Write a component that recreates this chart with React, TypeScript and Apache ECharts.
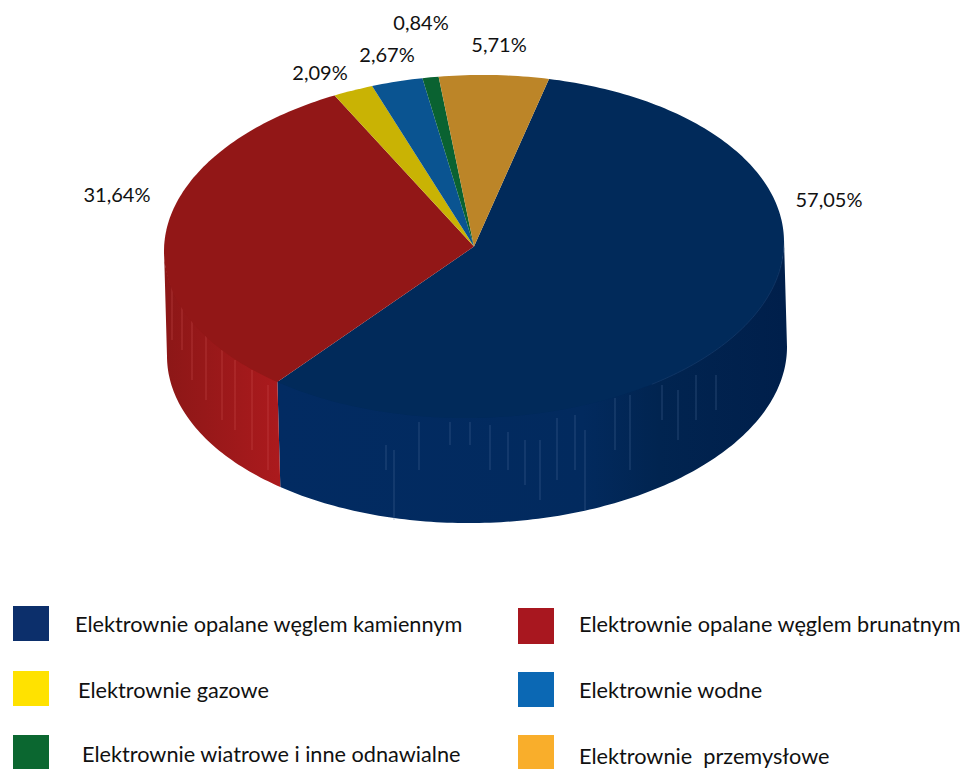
import React, { useEffect, useRef } from "react";
import * as echarts from "echarts";

const categories = [
  "Elektrownie opalane węglem kamiennym",
  "Elektrownie opalane węglem brunatnym",
  "Elektrownie gazowe",
  "Elektrownie wodne",
  "Elektrownie wiatrowe i inne odnawialne",
  "Elektrownie  przemysłowe",
];
const values = [57.05, 31.64, 2.09, 2.67, 0.84, 5.71];
const valueLabels = ["57,05%", "31,64%", "2,09%", "2,67%", "0,84%", "5,71%"];
const labelPositions = [[829, 199], [117, 194], [320, 72], [387, 54], [421, 22], [499, 44]];
const topColors = ["#012a5a", "#921717", "#c9b304", "#0a5491", "#0a6231", "#bc8528"];
const legendColors = ["#0c2f6b", "#a8171f", "#ffe200", "#0b68b4", "#0b6730", "#f9ae2b"];
const legendBoxes = [[13, 606, 36, 35], [518, 608, 36, 36], [13, 671, 36, 35], [518, 672, 36, 35], [13, 735, 36, 36], [518, 735, 36, 36]];
const legendTexts = [[75, 624], [579, 624], [78, 690], [579, 690], [82, 754], [579, 756]];
// Faint vertical streaks of the printed side wall: [x, y1, y2]
const streaks = [
  [386, 445, 470], [394, 450, 520], [419, 422, 470], [450, 422, 445], [470, 422, 445], [490, 425, 470],
  [508, 432, 470], [525, 440, 485], [540, 440, 500], [557, 418, 480], [575, 415, 470], [585, 430, 510],
  [615, 398, 450], [630, 395, 470], [662, 385, 420], [678, 390, 440], [696, 375, 420], [716, 375, 410],
  [172, 285, 340], [182, 300, 350], [192, 310, 380], [206, 330, 400], [222, 350, 420], [235, 360, 430], [252, 370, 450], [268, 385, 470],
];

const CX = 474, CY = 246.5, RX = 310, RY = 171.5, DX = 3, DEPTH = 105, START = 14, SKEW = -0.015;
const total = values.reduce((a, b) => a + b, 0);
const starts = values.map((_, i) => START + (values.slice(0, i).reduce((a, b) => a + b, 0) / total) * 360);
const pt = (deg: number, dx = 0, dy = 0) => {
  const r = (deg * Math.PI) / 180;
  const ox = RX * Math.sin(r);
  return [CX + dx + ox, CY + dy - RY * Math.cos(r) + SKEW * ox];
};
const arc = (a: number, b: number, dx = 0, dy = 0) => {
  const out: number[][] = [];
  const n = Math.max(2, Math.ceil(Math.abs(b - a)));
  for (let i = 0; i <= n; i++) out.push(pt(a + ((b - a) * i) / n, dx, dy));
  return out;
};
const sideFill = (i: number) =>
  i === 0
    ? new echarts.graphic.LinearGradient(0, 0, 1, 0, [
        { offset: 0, color: "#022b62" },
        { offset: 0.6, color: "#022a5e" },
        { offset: 0.75, color: "#012450" },
        { offset: 1, color: "#001f4b" },
      ])
    : new echarts.graphic.LinearGradient(0, 0, 1, 0, [
        { offset: 0, color: "#8c1717" },
        { offset: 1, color: "#ab1a1d" },
      ]);

const FONT = "Lato, sans-serif";
const LEGEND_FONT = `21.7px ${FONT}`;
const LABEL_FONT = `20px ${FONT}`;
const TEXT_COLOR = "#111111";

const option = {
  animation: false,
  backgroundColor: "#ffffff",
  graphic: [
    ...legendBoxes.map((b, i) => ({
      type: "rect",
      shape: { x: b[0], y: b[1], width: b[2], height: b[3] },
      style: { fill: legendColors[i] },
      silent: true,
    })),
    ...legendTexts.map((p, i) => ({
      type: "text",
      x: p[0],
      y: p[1],
      style: { text: categories[i], fill: TEXT_COLOR, font: LEGEND_FONT, textAlign: "left", textVerticalAlign: "middle" },
      silent: true,
    })),
  ],
  series: [
    {
      type: "custom",
      coordinateSystem: "none",
      silent: true,
      z: 1,
      data: values.map((v) => [v]),
      renderItem: (p: any, api: any) => {
        const i = p.dataIndex;
        const a = Math.max(starts[i], 90);
        const b = Math.min(starts[i] + (api.value(0) / total) * 360, 270);
        if (b <= a) return { type: "group", children: [] };
        return {
          type: "polygon",
          shape: { points: [...arc(a, b, 0, -2), ...arc(b, a, DX, DEPTH)] },
          style: { fill: sideFill(i) },
        };
      },
    },
    {
      type: "custom",
      coordinateSystem: "none",
      silent: true,
      z: 2,
      data: streaks,
      renderItem: (p: any, api: any) => {
        const x = api.value(0);
        return {
          type: "line",
          shape: { x1: x, y1: api.value(1), x2: x, y2: api.value(2) },
          style: { stroke: x < 280 ? "#d8595c" : "#5c7ba6", lineWidth: 1, opacity: 0.4 },
        };
      },
    },
    {
      type: "custom",
      coordinateSystem: "none",
      silent: true,
      z: 3,
      data: values.map((v) => [v]),
      renderItem: (p: any, api: any) => {
        const i = p.dataIndex;
        const a = starts[i];
        const b = a + (api.value(0) / total) * 360;
        const children: any[] = [
          { type: "polygon", shape: { points: [[CX, CY], ...arc(a, b)] }, style: { fill: topColors[i] } },
          {
            type: "text",
            x: labelPositions[i][0],
            y: labelPositions[i][1],
            style: { text: valueLabels[i], fill: TEXT_COLOR, font: LABEL_FONT, textAlign: "center", textVerticalAlign: "middle" },
          },
        ];
        if (i === 0) {
          children.push({
            type: "polyline",
            shape: { points: arc(92, 145) },
            style: { stroke: "#1f4474", lineWidth: 1, fill: "none", opacity: 0.5 },
          });
        }
        return { type: "group", children };
      },
    },
  ],
};

export default function App() {
  const ref = useRef<HTMLDivElement>(null);
  useEffect(() => {
    document.body.style.margin = "0";
    const chart = echarts.init(ref.current!, null, { renderer: "svg" });
    chart.setOption(option as any);
    return () => chart.dispose();
  }, []);
  return <div ref={ref} style={{ width: 963, height: 769 }} />;
}
